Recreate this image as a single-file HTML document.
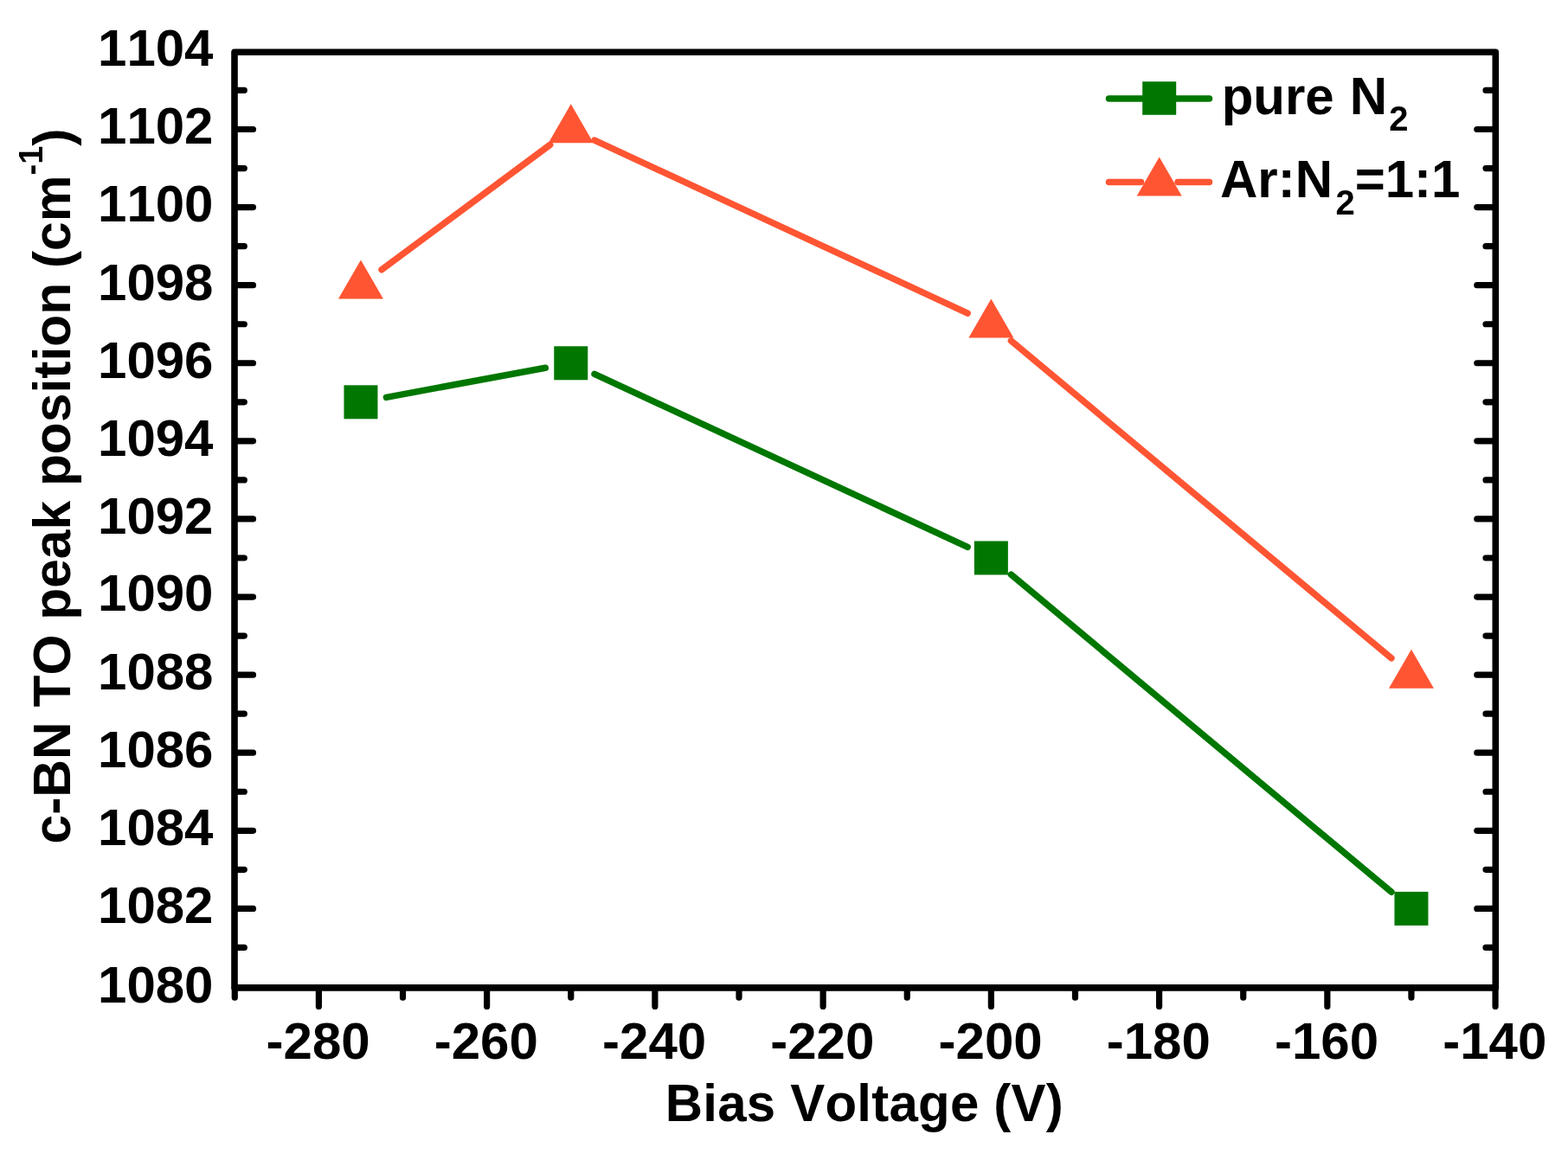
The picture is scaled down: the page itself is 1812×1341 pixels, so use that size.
<!DOCTYPE html><html><head><meta charset="utf-8"><style>html,body{margin:0;padding:0;background:#fff;}svg{display:block}text{font-family:"Liberation Sans",Arial,sans-serif;font-weight:bold;fill:#000;font-kerning:none}</style></head><body>
<svg width="1812" height="1341" viewBox="0 0 1812 1341">
<rect width="1812" height="1341" fill="#fff"/>
<path d="M274.6 1095.45H282.3M1724.7 1095.45H1717.0M274.6 1050.40H292.5M1724.7 1050.40H1706.8M274.6 1005.36H282.3M1724.7 1005.36H1717.0M274.6 960.31H292.5M1724.7 960.31H1706.8M274.6 915.26H282.3M1724.7 915.26H1717.0M274.6 870.22H292.5M1724.7 870.22H1706.8M274.6 825.18H282.3M1724.7 825.18H1717.0M274.6 780.13H292.5M1724.7 780.13H1706.8M274.6 735.09H282.3M1724.7 735.09H1717.0M274.6 690.04H292.5M1724.7 690.04H1706.8M274.6 645.00H282.3M1724.7 645.00H1717.0M274.6 599.95H292.5M1724.7 599.95H1706.8M274.6 554.90H282.3M1724.7 554.90H1717.0M274.6 509.86H292.5M1724.7 509.86H1706.8M274.6 464.81H282.3M1724.7 464.81H1717.0M274.6 419.77H292.5M1724.7 419.77H1706.8M274.6 374.73H282.3M1724.7 374.73H1717.0M274.6 329.68H292.5M1724.7 329.68H1706.8M274.6 284.63H282.3M1724.7 284.63H1717.0M274.6 239.59H292.5M1724.7 239.59H1706.8M274.6 194.55H282.3M1724.7 194.55H1717.0M274.6 149.50H292.5M1724.7 149.50H1706.8M274.6 104.45H282.3M1724.7 104.45H1717.0M271.28 1141.9V1153.2M368.40 1141.9V1163.4M465.52 1141.9V1153.2M562.64 1141.9V1163.4M659.76 1141.9V1153.2M756.88 1141.9V1163.4M854.00 1141.9V1153.2M951.12 1141.9V1163.4M1048.24 1141.9V1153.2M1145.36 1141.9V1163.4M1242.48 1141.9V1153.2M1339.60 1141.9V1163.4M1436.72 1141.9V1153.2M1533.84 1141.9V1163.4M1630.96 1141.9V1153.2M1728.08 1141.9V1163.4" stroke="#000" stroke-width="7.2" stroke-linecap="round" fill="none"/>
<path d="M271.0 60.3H1728.3V1141.9H271.0Z" stroke="#000" stroke-width="7.6" stroke-linejoin="round" fill="none"/>
<text x="246.5" y="1158.8" text-anchor="end" font-size="60">1080</text>
<text x="246.5" y="1067.1" text-anchor="end" font-size="60">1082</text>
<text x="246.5" y="976.8" text-anchor="end" font-size="60">1084</text>
<text x="246.5" y="886.8" text-anchor="end" font-size="60">1086</text>
<text x="246.5" y="796.8" text-anchor="end" font-size="60">1088</text>
<text x="246.5" y="705.9" text-anchor="end" font-size="60">1090</text>
<text x="246.5" y="617.0" text-anchor="end" font-size="60">1092</text>
<text x="246.5" y="526.8" text-anchor="end" font-size="60">1094</text>
<text x="246.5" y="436.8" text-anchor="end" font-size="60">1096</text>
<text x="246.5" y="346.8" text-anchor="end" font-size="60">1098</text>
<text x="246.5" y="255.9" text-anchor="end" font-size="60">1100</text>
<text x="246.5" y="166.2" text-anchor="end" font-size="60">1102</text>
<text x="246.5" y="76.0" text-anchor="end" font-size="60">1104</text>
<text x="367.6" y="1224" text-anchor="middle" font-size="60">-280</text>
<text x="561.8" y="1224" text-anchor="middle" font-size="60">-260</text>
<text x="756.1" y="1224" text-anchor="middle" font-size="60">-240</text>
<text x="950.3" y="1224" text-anchor="middle" font-size="60">-220</text>
<text x="1144.6" y="1224" text-anchor="middle" font-size="60">-200</text>
<text x="1338.8" y="1224" text-anchor="middle" font-size="60">-180</text>
<text x="1533.0" y="1224" text-anchor="middle" font-size="60">-160</text>
<text x="1727.3" y="1224" text-anchor="middle" font-size="60">-140</text>
<text transform="translate(998.9 1296.3) scale(1 1.03)" text-anchor="middle" font-size="60" letter-spacing="0.22">Bias Voltage (V)</text>
<text transform="translate(81 975.5) rotate(-90) scale(1 1.02)" font-size="60.5">c-BN TO peak position (cm<tspan dx="0" dy="-31.8" font-size="38">-1</tspan><tspan dx="0" dy="31.8">)</tspan></text>
<path d="M446.46 459.34L630.26 425.24M686.98 432.39L1118.14 632.37M1168.39 664.22L1607.93 1031.17" stroke="#007700" stroke-width="7.5" stroke-linecap="round" fill="none"/>
<rect x="397.46" y="445.31" width="39" height="39" fill="#007700"/>
<rect x="640.26" y="400.27" width="39" height="39" fill="#007700"/>
<rect x="1125.86" y="625.50" width="39" height="39" fill="#007700"/>
<rect x="1611.46" y="1030.90" width="39" height="39" fill="#007700"/>
<path d="M441.05 311.80L635.67 167.38M686.98 162.12L1118.14 362.10M1168.39 393.95L1607.93 760.90" stroke="#FF5533" stroke-width="7.5" stroke-linecap="round" fill="none"/>
<path d="M416.96 300.38L442.96 345.38L390.96 345.38Z" fill="#FF5533"/>
<path d="M659.76 120.20L685.76 165.20L633.76 165.20Z" fill="#FF5533"/>
<path d="M1145.36 345.43L1171.36 390.43L1119.36 390.43Z" fill="#FF5533"/>
<path d="M1630.96 750.83L1656.96 795.83L1604.96 795.83Z" fill="#FF5533"/>
<path d="M1281.5 114H1397.5" stroke="#007700" stroke-width="7.5" stroke-linecap="round"/>
<rect x="1320.2" y="94.3" width="39" height="38.5" fill="#007700"/>
<path d="M1281.5 210.5H1318.5M1361 210.5H1397.5" stroke="#FF5533" stroke-width="7.5" stroke-linecap="round"/>
<path d="M1339.70 181.50L1365.70 226.50L1313.70 226.50Z" fill="#FF5533"/>
<text transform="translate(1411.7 131.5) scale(1 1.02)" font-size="60">pure <tspan dx="1.5">N</tspan><tspan dx="2" dy="19" font-size="40">2</tspan></text>
<text transform="translate(1410 227.8) scale(1 1.02)" font-size="60">Ar:N<tspan dx="3.5" dy="20" font-size="40">2</tspan><tspan dy="-20">=1:1</tspan></text>
</svg></body></html>
